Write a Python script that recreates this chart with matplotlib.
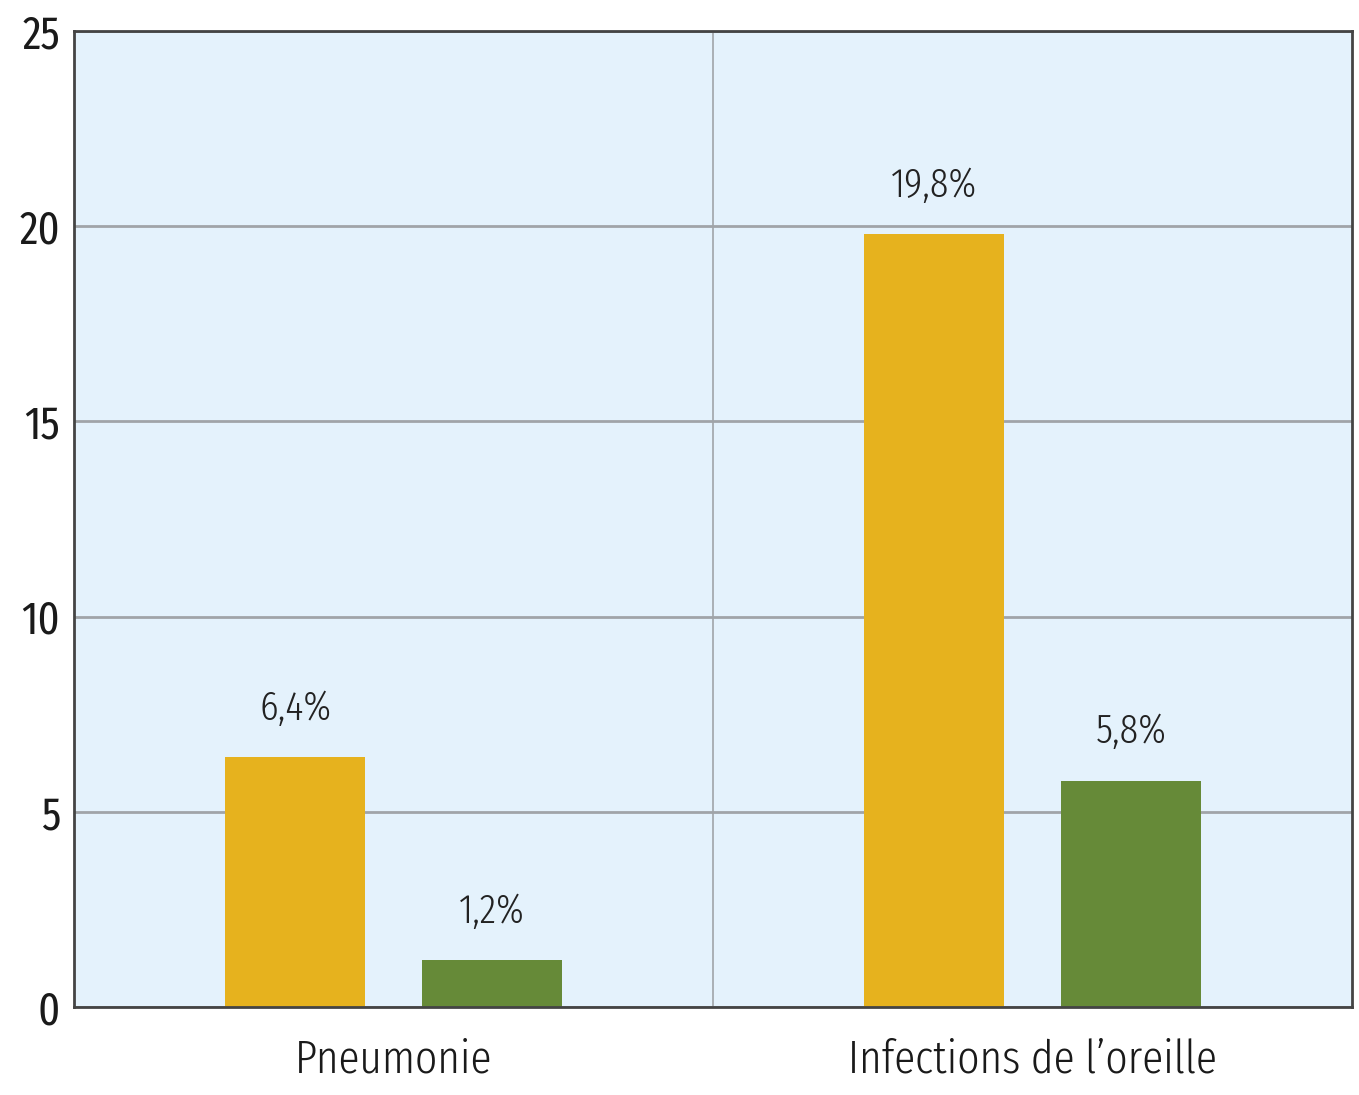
import matplotlib
matplotlib.use("Agg")
import matplotlib.pyplot as plt

categories = ["Pneumonie", "Infections de l\u2019oreille"]
series_a = [6.4, 19.8]
series_b = [1.2, 5.8]
labels_a = ["6,4%", "19,8%"]
labels_b = ["1,2%", "5,8%"]
yticks = [0, 5, 10, 15, 20, 25]

plt.rcParams['font.family'] = ['Fira Sans Extra Condensed', 'DejaVu Sans']
plt.rcParams['font.weight'] = 300

fig = plt.figure(figsize=(13.59, 10.95), dpi=100)
ax = fig.add_axes([74/1359, 1 - 1007/1095, (1352-74)/1359, (1007-31)/1095])
ax.set_facecolor("#E4F2FC")

x = list(range(len(categories)))
w = 0.219
off = 0.154
ya = [i - off for i in x]
yb = [i + off for i in x]
ax.bar(ya, series_a, width=w, color="#E6B21E", zorder=3)
ax.bar(yb, series_b, width=w, color="#668A38", zorder=3)

for xi, v, t in zip(ya, series_a, labels_a):
    ax.text(xi, v + 0.75, t, ha="center", va="bottom", fontsize=30, color="#222222")
for xi, v, t in zip(yb, series_b, labels_b):
    ax.text(xi, v + 0.75, t, ha="center", va="bottom", fontsize=30, color="#222222")

ax.set_xlim(-0.5, 1.5)
ax.set_ylim(0, 25)
ax.set_yticks(yticks)
ax.set_yticklabels([str(t) for t in yticks], fontsize=33, color="#1a1a1a", fontweight=400)
ax.set_xticks(x)
ax.set_xticklabels(categories, fontsize=34, color="#1a1a1a")
ax.tick_params(axis='x', length=0, pad=22)
ax.tick_params(axis='y', length=0, pad=10)
ax.yaxis.grid(True, color="#A0A4A8", linewidth=2, zorder=1)
ax.axvline(0.5, color="#A0A4A8", linewidth=1.2, zorder=1)
for s in ax.spines.values():
    s.set_color("#444444")
    s.set_linewidth(2)
    s.set_zorder(4)

fig.savefig("out.png", dpi=100, facecolor="white")
